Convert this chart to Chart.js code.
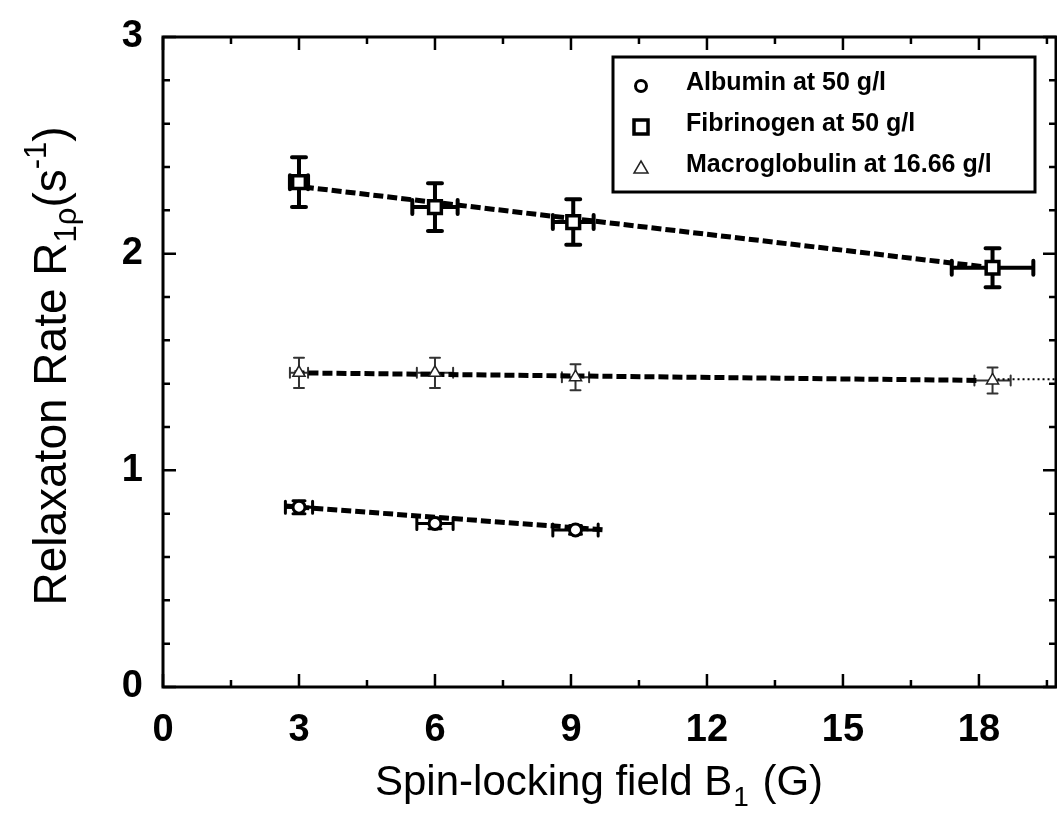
<!DOCTYPE html>
<html><head><meta charset="utf-8">
<script src="https://cdn.jsdelivr.net/npm/chart.js@4/dist/chart.umd.min.js"></script>
<style>html,body{margin:0;padding:0;background:#fff}</style>
</head><body>
<canvas id="c" width="1057" height="828"></canvas>
<script>
// ---- data ----
const seriesNames = ['Albumin at 50 g/l', 'Fibrinogen at 50 g/l', 'Macroglobulin at 16.66 g/l'];
const albX = [3, 6, 9.1];
const albY = [0.83, 0.755, 0.725];
const albErrY = [0.03, 0.025, 0.02];
const albErrX = [0.3, 0.4, 0.5];
const fibX = [3, 6, 9.05, 18.3];
const fibY = [2.33, 2.215, 2.146, 1.935];
const fibErrY = [0.115, 0.11, 0.105, 0.09];
const fibErrX = [0.2, 0.5, 0.45, 0.9];
const macX = [3, 6, 9.1, 18.3];
const macY = [1.45, 1.45, 1.43, 1.415];
const macErrY = [0.07, 0.07, 0.06, 0.06];
const macErrX = [0.2, 0.4, 0.3, 0.4];
const albFitX = [2.7, 9.75];
const albFitY = [0.835, 0.725];
const fibFitX = [2.8, 18.3];
const fibFitY = [2.315, 1.935];
const macFitX = [2.9, 18.0];
const macFitY = [1.45, 1.415];
const macTailX = [18.3, 19.7];
const macTailY = [1.42, 1.42];
const xTicks = [0, 3, 6, 9, 12, 15, 18];
const xMinor = [1.5, 4.5, 7.5, 10.5, 13.5, 16.5, 19.5];
const yTicks = [0, 1, 2, 3];
const yMinor = [0.2,0.4,0.6,0.8,1.2,1.4,1.6,1.8,2.2,2.4,2.6,2.8];
const xTitle = ['Spin-locking field B', '1', ' (G)'];
const yTitle = ['Relaxaton Rate R', '1\u03c1', '(s', '-1', ')'];

const pts = (xs, ys) => xs.map((x, i) => ({x: x, y: ys[i]}));
const FONT = '"Liberation Sans", Arial, Helvetica, sans-serif';

const errSets = [
  {xs: albX, ys: albY, ex: albErrX, ey: albErrY, w: 3, color: '#000', cap: 6},
  {xs: fibX, ys: fibY, ex: fibErrX, ey: fibErrY, w: 4, color: '#000', cap: 7},
  {xs: macX, ys: macY, ex: macErrX, ey: macErrY, w: 2, color: '#333', cap: 5}
];

function drawMarker(ctx, kind, x, y) {
  ctx.save();
  ctx.fillStyle = '#fff';
  ctx.strokeStyle = '#000';
  if (kind === 0) {
    ctx.lineWidth = 3;
    ctx.beginPath(); ctx.arc(x, y, 5.5, 0, Math.PI * 2); ctx.fill(); ctx.stroke();
  } else if (kind === 1) {
    ctx.lineWidth = 3.5;
    ctx.fillRect(x - 7, y - 7, 14, 14); ctx.strokeRect(x - 7, y - 7, 14, 14);
  } else {
    ctx.lineWidth = 1.5; ctx.strokeStyle = '#222';
    ctx.beginPath(); ctx.moveTo(x, y - 7); ctx.lineTo(x + 7, y + 5); ctx.lineTo(x - 7, y + 5); ctx.closePath();
    ctx.fill(); ctx.stroke();
  }
  ctx.restore();
}

const framePlugin = {
  id: 'frame',
  beforeDatasetsDraw(chart) {
    const ctx = chart.ctx, xs = chart.scales.x, ys = chart.scales.y;
    ctx.save();
    errSets.forEach(s => {
      ctx.strokeStyle = s.color; ctx.lineWidth = s.w; ctx.lineCap = 'round';
      s.xs.forEach((xv, i) => {
        const px = xs.getPixelForValue(xv), py = ys.getPixelForValue(s.ys[i]);
        const y1 = ys.getPixelForValue(s.ys[i] + s.ey[i]), y2 = ys.getPixelForValue(s.ys[i] - s.ey[i]);
        const x1 = xs.getPixelForValue(xv - s.ex[i]), x2 = xs.getPixelForValue(xv + s.ex[i]);
        ctx.beginPath();
        ctx.moveTo(px, y1); ctx.lineTo(px, y2);
        ctx.moveTo(px - s.cap, y1); ctx.lineTo(px + s.cap, y1);
        ctx.moveTo(px - s.cap, y2); ctx.lineTo(px + s.cap, y2);
        ctx.moveTo(x1, py); ctx.lineTo(x2, py);
        ctx.moveTo(x1, py - s.cap); ctx.lineTo(x1, py + s.cap);
        ctx.moveTo(x2, py - s.cap); ctx.lineTo(x2, py + s.cap);
        ctx.stroke();
      });
    });
    ctx.restore();
  },
  afterDraw(chart) {
    const ctx = chart.ctx, a = chart.chartArea, xs = chart.scales.x, ys = chart.scales.y;
    ctx.save();
    ctx.strokeStyle = '#000';
    ctx.lineWidth = 3;
    ctx.strokeRect(a.left, a.top, a.right - a.left, a.bottom - a.top);
    ctx.lineWidth = 2.5;
    ctx.beginPath();
    const tickX = (v, len) => {
      const p = xs.getPixelForValue(v);
      ctx.moveTo(p, a.bottom); ctx.lineTo(p, a.bottom - len);
      ctx.moveTo(p, a.top); ctx.lineTo(p, a.top + len);
    };
    const tickY = (v, len) => {
      const p = ys.getPixelForValue(v);
      ctx.moveTo(a.left, p); ctx.lineTo(a.left + len, p);
      ctx.moveTo(a.right, p); ctx.lineTo(a.right - len, p);
    };
    xTicks.forEach(v => tickX(v, 13));
    xMinor.forEach(v => tickX(v, 7));
    yTicks.forEach(v => tickY(v, 13));
    yMinor.forEach(v => tickY(v, 7));
    ctx.stroke();

    // legend
    const lx = 613, ly = 57, lw = 422, lh = 135;
    ctx.fillStyle = '#fff';
    ctx.fillRect(lx, ly, lw, lh);
    ctx.lineWidth = 3;
    ctx.strokeRect(lx, ly, lw, lh);
    ctx.fillStyle = '#000';
    ctx.font = 'bold 25px ' + FONT;
    ctx.textBaseline = 'middle';
    ctx.textAlign = 'left';
    seriesNames.forEach((n, i) => {
      const yy = ly + 26 + i * 41;
      drawMarker(ctx, i, lx + 28, yy + 3);
      ctx.fillText(n, lx + 73, yy);
    });

    // x title
    ctx.textBaseline = 'alphabetic';
    let big = '42px ' + FONT, small = '28px ' + FONT;
    ctx.font = big; const w0 = ctx.measureText(xTitle[0]).width, w2 = ctx.measureText(xTitle[2]).width;
    ctx.font = small; const w1 = ctx.measureText(xTitle[1]).width;
    let sx = 375;
    const by = 795;
    ctx.font = big; ctx.fillText(xTitle[0], sx, by); sx += w0;
    ctx.font = small; ctx.fillText(xTitle[1], sx + 1, by + 11); sx += w1 + 3;
    ctx.font = big; ctx.fillText(xTitle[2], sx, by);

    // y title (rotated)
    big = '46px ' + FONT; small = '31px ' + FONT;
    ctx.translate(66, 366);
    ctx.rotate(-Math.PI / 2);
    const parts = [
      {t: yTitle[0], f: big, dy: 0},
      {t: yTitle[1], f: small, dy: 10},
      {t: yTitle[2], f: big, dy: 0},
      {t: yTitle[3], f: small, dy: -20},
      {t: yTitle[4], f: big, dy: 0}
    ];
    let tot = 0;
    parts.forEach(p => { ctx.font = p.f; p.w = ctx.measureText(p.t).width; tot += p.w; });
    let cx = -tot / 2;
    parts.forEach(p => { ctx.font = p.f; ctx.fillText(p.t, cx, p.dy); cx += p.w; });
    ctx.restore();
  }
};

const fitLine = (xs, ys, w, dash) => ({
  type: 'line', data: pts(xs, ys), borderColor: '#000', borderWidth: w, borderDash: dash,
  pointRadius: 0, showLine: true, fill: false, order: 5
});

new Chart(document.getElementById('c'), {
  type: 'scatter',
  data: {
    datasets: [
      fitLine(albFitX, albFitY, 5, [10, 4]),
      fitLine(fibFitX, fibFitY, 5, [10, 4]),
      fitLine(macFitX, macFitY, 5, [10, 4]),
      fitLine(macTailX, macTailY, 2, [2, 3]),
      {label: seriesNames[0], data: pts(albX, albY), pointStyle: 'circle', pointRadius: 6,
       pointBorderWidth: 3, pointBackgroundColor: '#fff', pointBorderColor: '#000', order: 1},
      {label: seriesNames[1], data: pts(fibX, fibY), pointStyle: 'rect', pointRadius: 9,
       pointBorderWidth: 3.5, pointBackgroundColor: '#fff', pointBorderColor: '#000', order: 1},
      {label: seriesNames[2], data: pts(macX, macY), pointStyle: 'triangle', pointRadius: 7,
       pointBorderWidth: 1.5, pointBackgroundColor: '#fff', pointBorderColor: '#222', order: 1}
    ]
  },
  options: {
    responsive: false, animation: false, devicePixelRatio: 1,
    layout: {autoPadding: false, padding: {left: 0, top: 37, right: 1, bottom: 0}},
    plugins: {legend: {display: false}, tooltip: {enabled: false}},
    scales: {
      x: {
        type: 'linear', min: 0, max: 19.7,
        afterBuildTicks: s => { s.ticks = xTicks.map(v => ({value: v})); },
        afterFit: s => { s.height = 828 - 687; s.paddingLeft = 0; s.paddingRight = 0; },
        grid: {display: false, drawTicks: false}, border: {display: false},
        ticks: {color: '#000', padding: 21, maxRotation: 0, font: {family: FONT, size: 38, weight: 'bold'}}
      },
      y: {
        type: 'linear', min: 0, max: 3,
        afterBuildTicks: s => { s.ticks = yTicks.map(v => ({value: v})); },
        afterFit: s => { s.width = 163; s.paddingTop = 0; s.paddingBottom = 0; },
        grid: {display: false, drawTicks: false}, border: {display: false},
        ticks: {color: '#000', padding: 20, font: {family: FONT, size: 38, weight: 'bold'}}
      }
    }
  },
  plugins: [framePlugin]
});
</script>
</body></html>
